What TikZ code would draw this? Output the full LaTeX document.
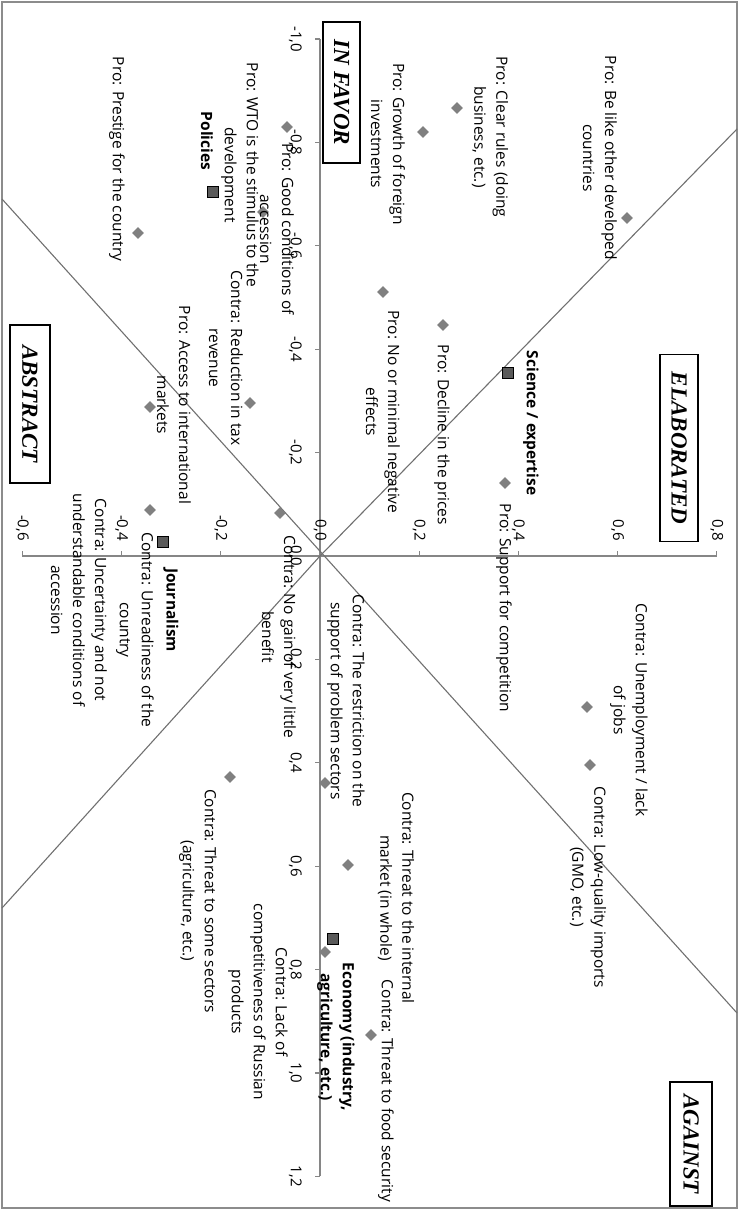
\documentclass[tikz,border=0pt]{standalone}
\usepackage{fontspec}
\setmainfont{Open Sans}
\newfontfamily\boxfont{Liberation Serif}
\usetikzlibrary{shapes.geometric}
\definecolor{axisgray}{RGB}{134,134,134}
\definecolor{linegray}{RGB}{112,112,112}
\definecolor{ptgray}{RGB}{128,128,128}
\definecolor{sqgray}{RGB}{90,90,90}
\definecolor{framegray}{RGB}{140,140,140}
\tikzset{
  lbl/.style={rotate=-90, align=center, inner sep=0pt, font=\fontsize{15.5}{22}\selectfont},
  catlbl/.style={lbl, font=\fontsize{15.5}{22}\selectfont\bfseries},
  ptmark/.style={diamond, fill=ptgray, minimum size=12pt, inner sep=0pt},
  sqmark/.style={rectangle, fill=sqgray, draw=black, line width=0.9pt, minimum size=11pt, inner sep=0pt},
  quadbox/.style={rotate=-90, draw=black, line width=1.2pt, inner sep=0pt,
    font=\boxfont\fontsize{23}{23}\selectfont\bfseries\itshape},
  ticklbl/.style={rotate=-90, inner sep=0pt, font=\fontsize{15}{15}\selectfont},
  axisline/.style={draw=axisgray, line width=1.3pt},
  diagline/.style={draw=linegray, line width=1.1pt},
}
\begin{document}
\begin{tikzpicture}[x=1pt,y=-1pt]
\useasboundingbox (0,0) rectangle (739,1210);
\draw[framegray, line width=1.5pt] (2,2) rectangle (737,1208);

% axes
\coordinate (vtop) at (320,39);
\coordinate (vbot) at (320,1176.4);
\coordinate (hleft) at (22.4,556);
\coordinate (hright) at (716.8,556);
\draw[axisline] (vtop) -- (vbot);
\draw[axisline] (hleft) -- (hright);
\foreach \v/\t [count=\i] in {-1.0/{-1,0},-0.8/{-0,8},-0.6/{-0,6},-0.4/{-0,4},-0.2/{-0,2},0.0/{0,0},0.2/{0,2},0.4/{0,4},0.6/{0,6},0.8/{0,8},1.0/{1,0},1.2/{1,2}}{
  \pgfmathsetmacro{\yy}{556+517*\v}
  \draw[axisline] (320,\yy) -- (315,\yy);
  \node[ticklbl, anchor=north] (xt\i) at (302,\yy) {\t};
}
\foreach \v/\t [count=\i] in {-0.6/{-0,6},-0.4/{-0,4},-0.2/{-0,2},0.0/{0,0},0.2/{0,2},0.4/{0,4},0.6/{0,6},0.8/{0,8}}{
  \pgfmathsetmacro{\xx}{320+496*\v}
  \draw[axisline] (\xx,556) -- (\xx,551);
  \node[ticklbl, anchor=east] (yt\i) at (\xx,541) {\t};
}

% diagonal lines
\coordinate (a1) at (737,129);
\coordinate (a2) at (320,556);
\coordinate (a3) at (2,908);
\coordinate (b1) at (2,199);
\coordinate (b2) at (737,1013);
\draw[diagline] (a1) -- (a2) -- (a3);
\draw[diagline] (b1) -- (b2);

% quadrant boxes
\node[quadbox, minimum width=141pt, minimum height=37pt] (infavor) at (341.5,92.5) {IN FAVOR};
\node[quadbox, minimum width=187pt, minimum height=38pt] (elab) at (679,448) {ELABORATED};
\node[quadbox, minimum width=158pt, minimum height=40pt] (abstr) at (30,404) {ABSTRACT};
\node[quadbox, minimum width=124pt, minimum height=42pt] (against) at (691,1144) {AGAINST};

% data points
\node[ptmark] (p1) at (627,218) {};
\node[ptmark] (p2) at (457,108) {};
\node[ptmark] (p3) at (423,132) {};
\node[ptmark] (p4) at (287,127) {};
\node[ptmark] (p5) at (263,212) {};
\node[ptmark] (p6) at (138,233) {};
\node[ptmark] (p7) at (383,292) {};
\node[ptmark] (p8) at (443,325) {};
\node[ptmark] (p9) at (505,483) {};
\node[ptmark] (p10) at (250,403) {};
\node[ptmark] (p11) at (150,407) {};
\node[ptmark] (p12) at (280,513) {};
\node[ptmark] (p13) at (150,510) {};
\node[ptmark] (p14) at (230,777) {};
\node[ptmark] (p15) at (325,783) {};
\node[ptmark] (p16) at (348,865) {};
\node[ptmark] (p17) at (587,707) {};
\node[ptmark] (p18) at (590,765) {};
\node[ptmark] (p19) at (325,952) {};
\node[ptmark] (p20) at (371,1035) {};

% category squares
\node[sqmark] (s1) at (213,192) {};
\node[sqmark] (s2) at (508,373) {};
\node[sqmark] (s3) at (163,542) {};
\node[sqmark] (s4) at (333,939) {};

% labels
\node[lbl] (l1) at (600,158) {Pro: Be like other developed\\countries};
\node[lbl] (l2) at (490,137) {Pro: Clear rules (doing\\business, etc.)};
\node[lbl] (l3) at (388,144) {Pro: Growth of foreign\\investments};
\node[lbl] (l4) at (277,229) {Pro: Good conditions of\\accession};
\node[lbl] (l5) at (240,175) {Pro: WTO is the stimulus to the\\development};
\node[catlbl] (c1) at (207,141) {Policies};
\node[lbl] (l6) at (117,159) {Pro: Prestige for the country};
\node[lbl] (l7) at (383,412) {Pro: No or minimal negative\\effects};
\node[lbl] (l8) at (442,435) {Pro: Decline in the prices};
\node[catlbl] (c2) at (531,423) {Science / expertise};
\node[lbl] (l9) at (504,608) {Pro: Support for competition};
\node[lbl] (l10) at (226,358) {Contra: Reduction in tax\\revenue};
\node[lbl] (l11) at (174,405) {Pro: Access to international\\markets};
\node[lbl] (l12) at (279,637) {Contra: No gain of very little\\benefit};
\node[catlbl] (c3) at (171,610) {Journalism};
\node[lbl] (l13) at (135,630) {Contra: Unreadiness of the\\country};
\node[lbl] (l14) at (79,600) {Contra: Uncertainty and not\\understandable conditions of\\accession};
\node[lbl] (l15) at (346,701) {Contra: The restriction on the\\support of problem sectors};
\node[lbl] (l16) at (198,901) {Contra: Threat to some sectors\\(agriculture, etc.)};
\node[lbl] (l17) at (629,710) {Contra: Unemployment / lack\\of jobs};
\node[lbl] (l18) at (588,887) {Contra: Low-quality imports\\(GMO, etc.)};
\node[lbl] (l19) at (396,898) {Contra: Threat to the internal\\market (in whole)};
\node[lbl] (l20) at (386,1091) {Contra: Threat to food security};
\node[catlbl] (c4) at (336,1037) {Economy (industry,\\agriculture, etc.)};
\node[lbl] (l21) at (258,1002) {Contra: Lack of\\competitiveness of Russian\\products};
\end{tikzpicture}
\end{document}
